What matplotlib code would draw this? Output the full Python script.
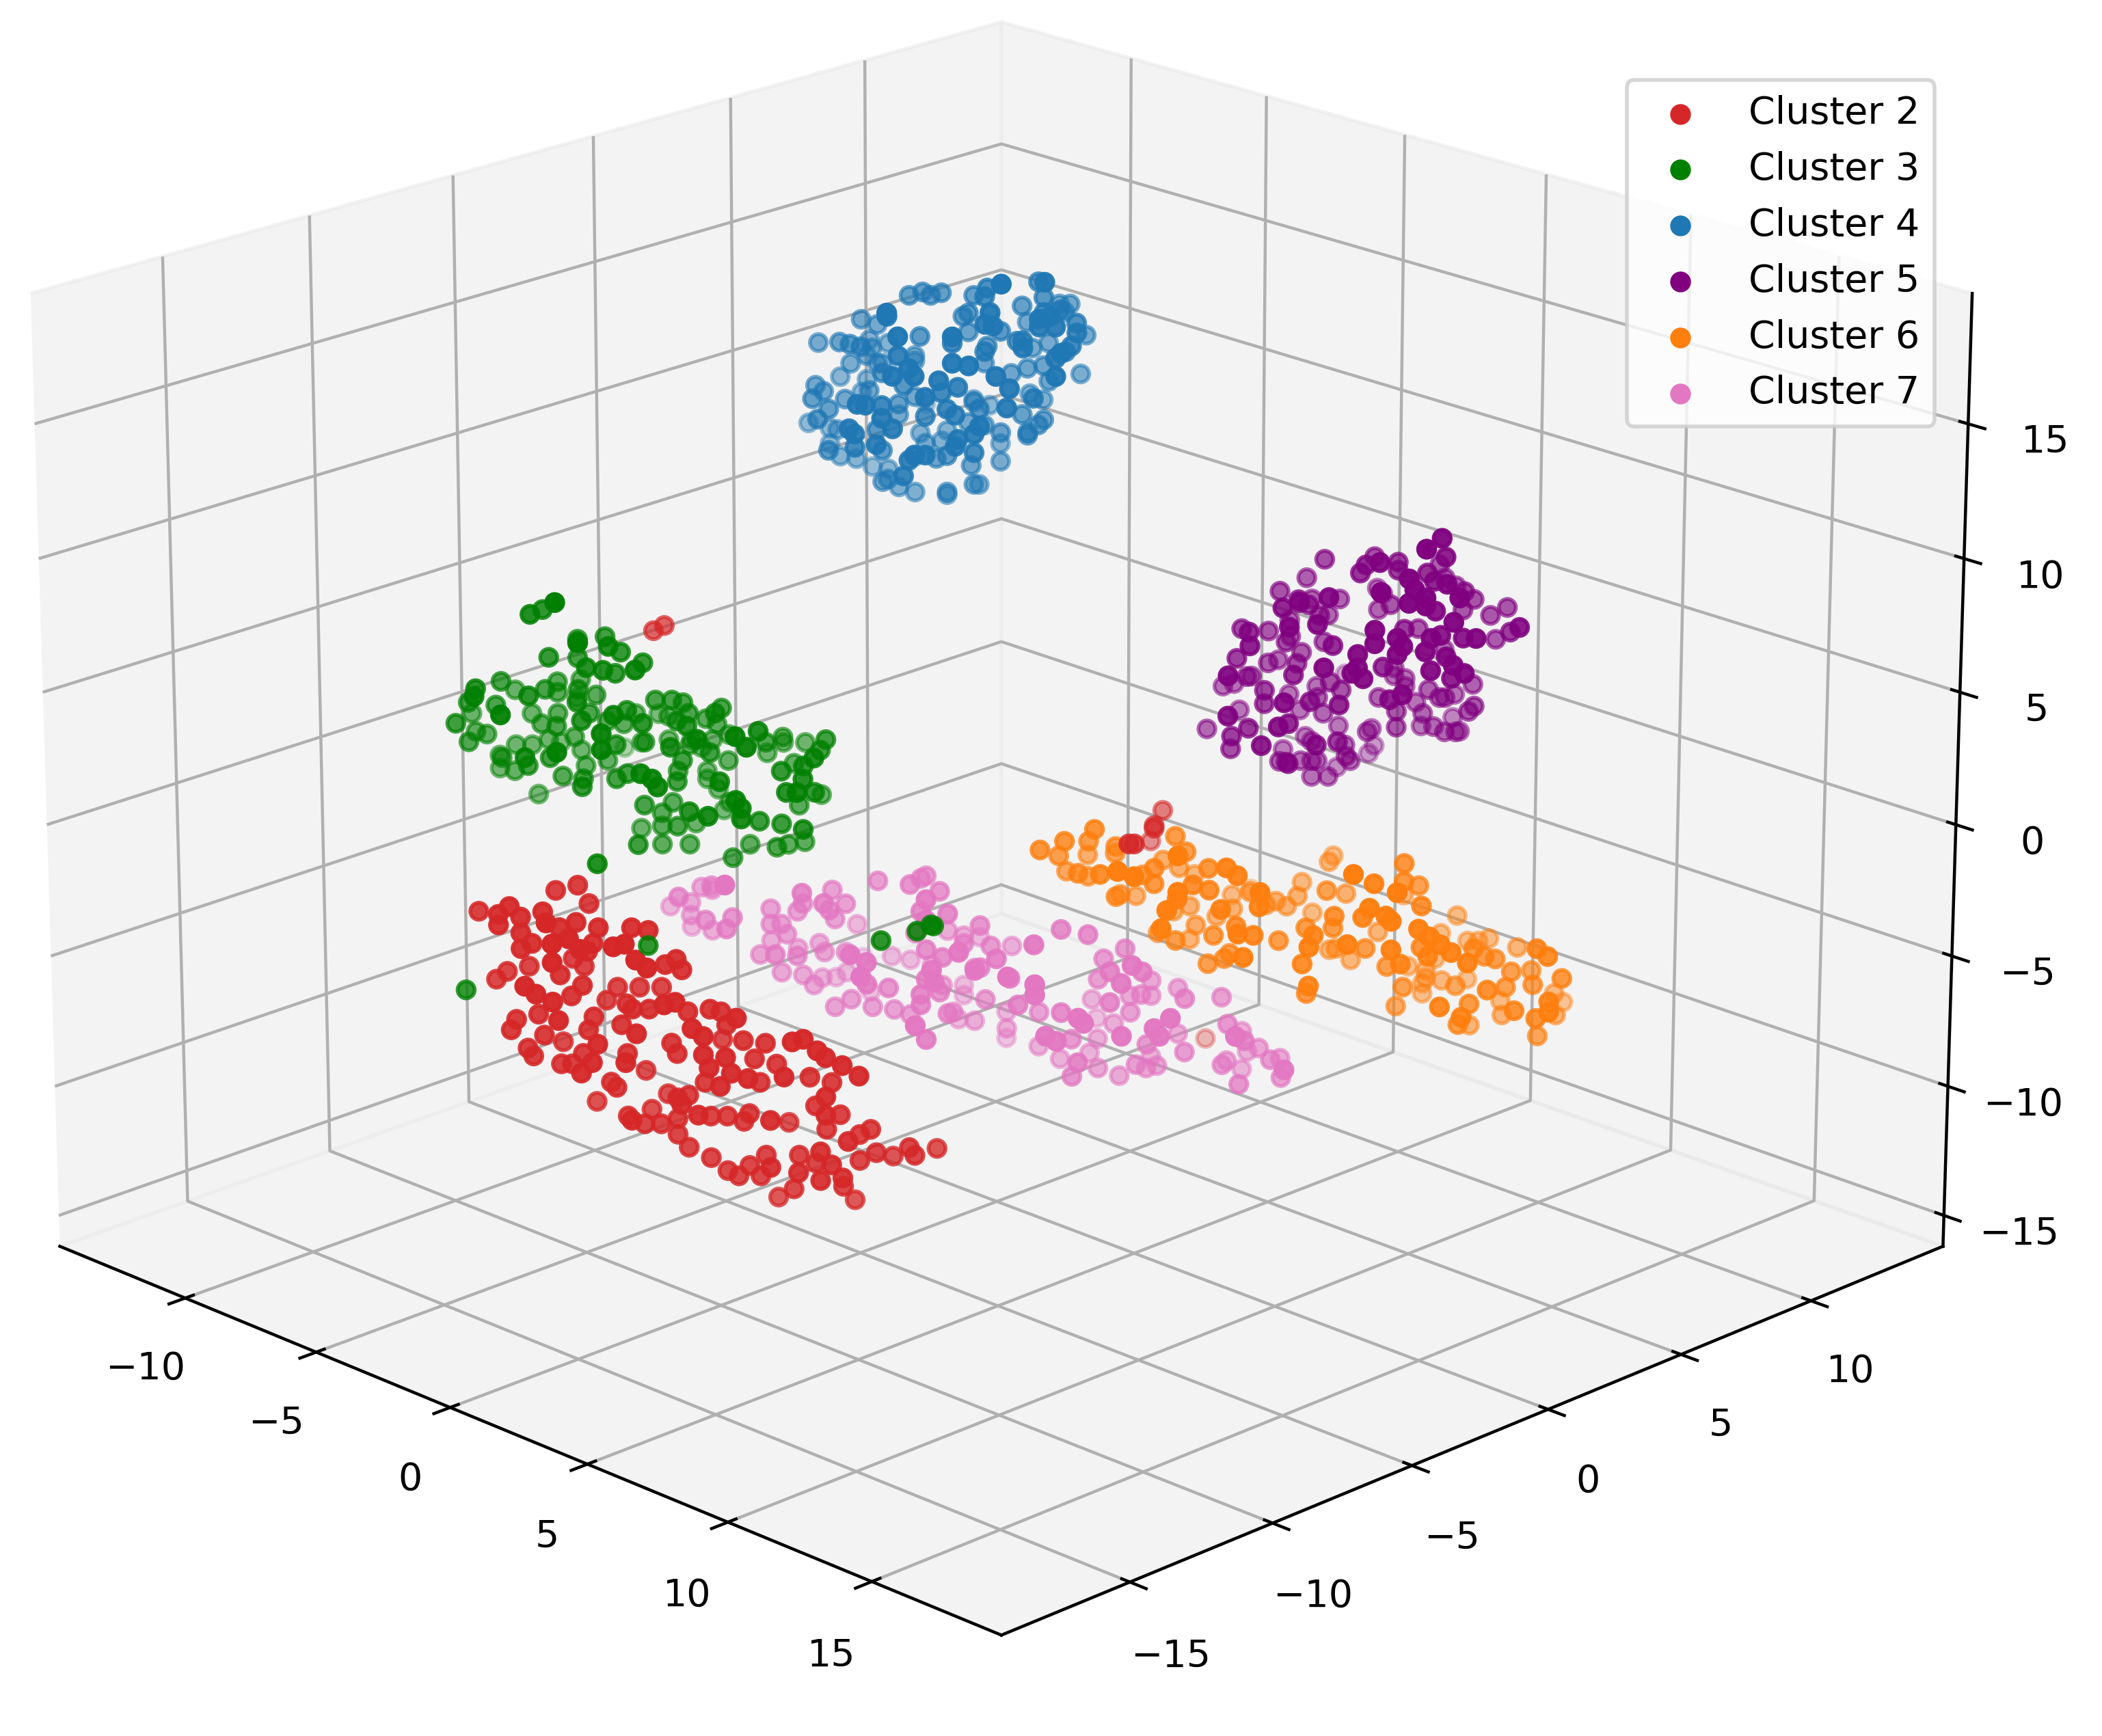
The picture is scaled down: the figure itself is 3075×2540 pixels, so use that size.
import numpy as np
import matplotlib
matplotlib.use("Agg")
import matplotlib.pyplot as plt

# (x, y, z) of every point, one list per cluster
cluster_2 = [
(-7.6,-11.2,-3.6),(-6.1,-11.9,-2.9),(-6.1,-11.9,-3.3),(-5.9,-11.7,-2.6),(-5.7,-11.5,-3.0),(-5.3,-11.1,-2.8),(-4.1,-12.1,-2.4),(-6.2,-9.8,-2.8),(-5.8,-9.4,-2.6),(-5.6,-9.2,-3.3),
(-5.7,-11.5,-3.6),(-5.5,-11.3,-4.0),(-5.7,-11.5,-4.2),(-5.0,-10.8,-3.4),(-4.7,-10.5,-3.2),(-4.3,-10.1,-3.4),(-4.0,-12.0,-3.2),(-3.7,-11.7,-3.0),(-3.5,-11.5,-3.4),(-4.4,-10.2,-4.0),(-4.5,-10.3,-4.3),
(-4.0,-12.0,-3.9),(-5.9,-9.5,-5.4),(-5.7,-9.3,-5.7),(-6.7,-10.3,-5.7),(-7.1,-10.7,-5.9),(-7.3,-10.9,-6.2),(-5.0,-10.8,-5.2),(-4.6,-10.4,-5.6),(-4.5,-12.5,-4.8),(-4.3,-12.3,-5.1),(-4.0,-12.0,-5.4),(-4.8,-10.6,-6.0),
(-5.1,-8.7,-6.5),(-4.7,-8.3,-6.5),(-4.3,-7.9,-6.5),(-5.3,-8.9,-7.0),(-3.7,-9.5,-3.4),(-3.4,-9.2,-3.5),(-2.9,-10.9,-3.3),(-2.7,-10.7,-3.2),(-2.5,-10.5,-3.8),(-2.3,-10.3,-4.1),(-3.1,-8.9,-4.8),(-2.9,-8.7,-4.6),(-2.8,-8.6,-5.0),
(-3.8,-9.6,-6.3),(-3.7,-9.5,-6.5),(-3.4,-9.2,-6.5),(-2.0,-10.0,-5.5),(-1.8,-9.8,-5.4),(-2.7,-8.5,-6.6),(-2.3,-8.1,-6.5),(-2.1,-7.9,-6.6),(-0.7,-8.7,-6.0),(-2.0,-7.8,-7.1),(-1.5,-9.5,-6.4),(-1.3,-9.3,-6.7),
(-3.9,-9.7,-7.1),(-2.5,-10.5,-6.6),(-4.4,-10.2,-6.8),(-4.5,-10.3,-7.3),(-5.4,-11.2,-6.7),(-5.8,-11.6,-6.9),(-5.9,-11.7,-7.3),(-3.9,-11.9,-6.1),(-5.3,-11.1,-7.5),(-6.1,-9.7,-8.6),(-5.6,-11.4,-8.0),(-5.5,-11.3,-8.3),
(-3.2,-11.2,-7.0),(-4.6,-10.4,-8.2),(-3.3,-11.3,-7.7),(-5.0,-10.8,-8.6),(-4.8,-10.6,-8.6),(-3.5,-11.5,-8.1),(-3.8,-9.6,-8.2),(-2.7,-10.7,-7.7),(-4.6,-8.2,-9.7),(-3.0,-8.8,-7.8),(-2.9,-8.7,-8.2),(-3.2,-6.8,-8.5),(-1.7,-7.5,-7.7),(-1.3,-7.1,-7.8),
(-1.3,-9.3,-7.4),(-0.9,-8.9,-7.5),(-1.5,-7.3,-8.4),(-1.1,-6.9,-8.6),(0.2,-7.9,-8.2),(-1.2,-9.2,-7.9),(-0.8,-8.8,-8.1),(-0.5,-8.5,-8.3),(-1.4,-7.2,-9.3),(-2.4,-8.2,-9.3),(-1.0,-9.0,-8.6),
(0.3,-7.7,-6.9),(0.5,-7.5,-6.8),(0.8,-7.3,-7.2),(0.9,-7.1,-7.5),(1.2,-6.8,-7.8),(1.5,-6.5,-8.2),(-0.5,-6.3,-9.1),(-0.1,-5.9,-9.3),(0.9,-7.1,-9.0),(-0.4,-6.2,-10.2),(0.9,-7.1,-9.7),(0.1,-5.8,-10.5),(-0.2,-6.0,-11.1),
(-4.1,-9.9,-9.3),(-4.0,-9.8,-9.5),(-5.5,-9.1,-10.9),(-4.2,-7.8,-10.6),(-2.9,-8.7,-9.9),(-2.7,-8.5,-9.8),(-1.7,-9.7,-9.3),(-3.8,-9.6,-10.6),(-4.5,-8.1,-11.2),(-2.6,-10.6,-9.9),(-3.5,-9.3,-10.9),(-3.2,-9.0,-10.9),(-2.9,-8.7,-10.7),(-2.9,-8.7,-11.3),(-2.7,-8.5,-11.8),
(-1.4,-9.4,-9.7),(-2.3,-8.1,-10.6),(-2.0,-7.8,-10.6),(-1.7,-7.5,-10.8),(-1.6,-7.4,-10.5),(-0.1,-8.1,-9.9),(-2.0,-5.6,-11.7),(-2.3,-8.1,-12.2),(-2.0,-7.8,-12.7),(-1.8,-7.6,-12.9),(-1.3,-7.1,-12.1),(-1.6,-7.4,-12.5),(-1.4,-7.2,-12.9),(-0.1,-8.1,-11.7),
(-0.7,-6.5,-12.1),(0.8,-7.2,-11.1),(1.3,-6.7,-10.7),(0.6,-5.2,-11.1),(0.4,-5.4,-11.3),(0.7,-5.1,-12.0),(0.4,-5.4,-12.3),(-0.1,-3.7,-13.0),(1.3,-4.5,-11.8),(1.4,-4.4,-12.1),(0.7,-2.9,-12.7),
(0.4,-7.6,-11.9),(-0.8,-6.6,-13.4),(0.8,-7.2,-12.2),(1.0,-7.0,-11.6),(1.2,-6.8,-12.1),(0.1,-5.7,-13.3),(-2.2,-5.8,-14.6),(-0.8,-4.4,-14.7),(-0.4,-6.2,-12.4),
(-8.9,-3.7,4.0),(-8.7,-3.5,4.2),(3.1,1.7,-1.8),(3.2,1.8,-1.8),(1.4,4.4,-2.7),(1.4,4.4,-2.8),(-0.6,6.8,-3.7),(-1.9,7.7,-5.7),(-3.0,11.0,-15.2),
]
cluster_3 = [
(-6.8,-10.0,7.5),(-7.3,-9.1,7.2),(-4.9,-10.9,8.9),(-7.4,-7.8,5.6),(-4.5,-10.5,7.4),(-6.9,-7.3,5.7),(-7.4,-7.8,4.9),(-5.4,-8.6,6.3),(-5.9,-7.7,5.6),(-7.2,-9.0,5.4),(-5.5,-7.3,5.2),(-4.2,-8.8,5.9),(-5.8,-9.0,5.5),(-5.5,-8.7,5.4),(-6.0,-7.8,4.8),
(-8.8,-6.4,3.1),(-8.5,-7.5,3.5),(-8.8,-9.2,4.0),(-7.8,-11.0,4.7),(-10.0,-7.6,2.7),(-6.9,-10.0,4.4),(-8.0,-8.4,3.7),(-8.5,-7.5,3.1),(-7.4,-7.8,3.7),(-7.8,-6.8,3.0),(-9.4,-9.8,3.2),(-7.1,-11.7,4.9),(-8.9,-9.3,3.1),(-5.9,-11.9,4.7),(-10.8,-8.4,1.8),
(-6.7,-8.5,3.7),(-9.7,-7.3,1.8),(-8.8,-7.8,1.9),(-8.5,-7.5,2.3),(-7.8,-8.2,2.3),(-7.2,-7.6,2.8),(-5.9,-9.1,3.5),(-9.6,-5.8,1.9),(-8.9,-10.7,2.9),(-10.0,-9.0,1.6),(-9.8,-8.8,1.5),(-9.4,-9.8,1.7),
(-6.0,-6.4,3.3),(-5.7,-6.1,3.3),(-5.5,-5.9,3.2),(-5.4,-5.8,2.8),(-7.2,-4.8,1.7),(-4.9,-6.7,3.0),(-8.1,-4.3,1.3),(-4.6,-9.2,4.2),(-5.8,-7.6,3.4),(-7.8,-5.4,1.8),(-4.8,-8.0,3.4),(-7.3,-6.3,1.9),(-7.6,-6.6,2.0),
(-4.8,-5.2,3.0),(-4.2,-6.0,3.3),(-5.8,-4.8,2.1),(-5.6,-4.6,1.9),(-4.0,-7.2,3.3),(-6.1,-3.7,1.0),(-1.7,-7.7,3.9),(-2.0,-6.6,3.6),(-4.0,-4.4,1.7),(-1.5,-7.5,3.5),(-4.4,-3.4,1.4),(-4.7,-2.3,0.7),(-2.2,-4.0,2.3),
(-4.1,-10.1,4.0),(-4.1,-10.1,3.4),(-6.0,-7.8,2.1),(-8.2,-7.2,1.4),(-9.4,-7.0,0.8),(-9.9,-6.1,0.2),(-10.0,-7.6,0.6),(-9.7,-7.3,0.6),(-7.7,-5.3,0.7),(-6.2,-6.6,1.7),(-7.2,-4.8,0.8),(-7.5,-3.7,0.3),(-6.4,-4.0,0.8),(-3.1,-7.7,3.3),(-4.3,-7.5,2.5),(-6.1,-5.1,1.1),(-4.3,-6.1,1.8),
(-8.8,-6.4,0.4),(-4.9,-10.9,3.3),(-7.2,-9.0,1.6),(-10.3,-7.9,0.2),(-8.8,-9.2,1.1),(-6.2,-10.8,2.6),(-10.3,-7.9,-0.3),(-9.3,-8.3,0.1),(-7.6,-9.4,1.3),(-4.8,-6.6,1.5),(-6.6,-4.2,0.5),(-5.4,-4.4,0.5),(-5.1,-2.7,0.7),(-5.4,-3.0,0.3),(-4.2,-3.2,0.4),(-2.3,-5.5,1.6),(-1.0,-5.6,2.6),(-2.3,-4.1,1.9),(-1.9,-5.1,1.8),
(-7.6,-6.6,0.5),(-8.0,-7.0,0.3),(-7.7,-8.1,0.4),(-9.6,-7.2,-1.3),(-5.8,-7.6,1.0),(-6.0,-7.8,0.8),(-3.4,-9.4,2.5),(-3.2,-9.2,2.3),(-3.1,-9.1,2.0),(-5.6,-6.0,0.6),(-4.9,-6.7,0.7),(-6.5,-4.1,-0.4),(-6.5,-4.1,-0.7),(-2.7,-7.3,1.7),(-6.3,-3.9,-1.1),(-6.6,-8.4,0.8),(-5.9,-9.1,1.0),
(-1.2,-5.8,1.8),(-1.5,-6.1,1.3),(-0.6,-6.6,1.8),(-1.7,-4.9,0.8),(-3.7,-2.7,-0.8),(-3.4,-3.8,-0.7),(-6.1,-3.7,-1.6),(-1.7,-7.7,1.5),(-1.6,-7.6,1.2),(-1.6,-7.6,0.8),(-5.5,-7.3,-0.2),(-5.7,-6.1,-0.6),(-5.9,-6.3,-1.0),(-3.2,-7.9,0.6),(-2.2,-8.2,0.9),(-6.2,-3.8,-1.9),(-2.7,-5.9,-0.3),
(-6.0,-5.0,-1.9),(-4.9,-6.7,-1.0),(-5.9,-6.3,-1.5),(-7.0,-6.0,-2.1),(-4.9,-8.1,-1.2),(-5.9,-6.3,-2.2),(-5.4,-5.8,-2.2),(-3.9,-5.7,-2.2),(-4.3,-4.7,-2.2),(-3.1,-4.9,-1.8),(-3.6,-4.0,-2.2),(-2.3,-5.5,-0.4),(-1.2,-5.8,-0.1),(-3.3,-3.7,-2.1),
(-4.2,-10.2,-0.9),(-6.6,-12.6,-5.7),(-3.3,-9.3,-4.0),(0.9,-5.1,-3.8),(1.6,-4.5,-3.4),(1.8,-4.2,-3.2),(1.9,-4.2,-3.2),(-10.9,-2.9,-1.5),
]
cluster_4 = [
(-8.6,5.4,14.0),(-8.4,5.7,14.1),(-8.2,5.8,14.0),(-8.0,6.0,14.1),(-7.4,6.6,14.0),(-6.0,5.7,15.0),(-3.9,4.1,16.3),(-6.0,5.6,14.7),(-5.6,7.2,14.9),(-3.7,5.5,16.0),(-5.5,7.3,14.3),(-6.5,7.5,13.6),(-6.2,9.0,13.3),(-6.4,8.8,13.3),
(-6.9,5.9,13.7),(-7.6,6.4,13.2),(-7.1,6.9,13.3),(-5.9,5.7,14.1),(-7.0,8.2,12.6),(-4.9,6.7,14.1),(-4.6,7.0,14.2),(-6.3,8.9,13.0),(-3.8,5.4,14.6),(-3.6,5.6,14.7),(-3.8,5.4,14.3),(-3.5,5.7,14.3),(-4.3,7.3,13.7),(-5.9,9.3,12.1),(-3.7,6.7,13.7),
(-10.1,5.1,12.7),(-9.8,5.4,12.5),(-6.0,2.0,15.2),(-6.6,2.6,14.7),(-10.9,4.3,11.8),(-9.9,4.1,12.2),(-9.1,3.7,12.5),(-8.9,3.9,12.4),(-10.6,5.9,11.5),(-9.9,5.3,11.6),(-10.2,6.2,11.4),(-5.8,2.2,14.3),(-7.8,5.0,12.8),(-7.5,6.5,12.6),(-4.8,4.4,14.4),(-4.7,4.6,14.3),(-6.3,6.5,13.0),(-4.8,3.2,14.3),(-6.0,4.4,13.3),
(-5.4,6.2,13.0),(-4.7,5.7,13.4),(-4.1,5.1,13.5),(-6.9,8.3,11.6),(-6.6,8.6,11.8),(-3.8,6.6,13.2),(-4.5,7.1,12.6),
(-10.3,4.9,11.0),(-10.0,5.2,11.3),(-9.8,5.4,11.0),(-9.7,5.5,11.0),(-6.4,2.8,13.2),(-9.1,6.1,11.3),(-9.1,6.1,11.1),(-6.6,6.3,12.4),(-6.0,5.6,12.6),(-7.2,6.8,11.4),(-6.7,7.3,11.0),(-6.4,7.6,11.2),(-6.1,7.9,11.3),(-3.5,5.7,13.1),(-3.4,5.8,13.3),(-6.0,9.2,10.6),
(-11.1,5.3,10.1),(-10.6,5.8,10.0),(-8.5,4.3,11.4),(-5.9,2.1,12.8),(-5.6,2.4,13.1),(-4.8,3.2,13.3),(-4.5,3.5,13.2),(-5.5,2.5,12.8),(-5.1,3.0,12.6),(-5.3,3.9,12.0),(-4.0,4.0,12.8),(-2.9,5.1,12.8),(-6.0,8.0,10.7),
(-10.4,3.7,10.5),(-10.2,3.8,10.3),(-9.8,3.0,10.4),(-9.8,4.2,10.0),(-10.7,5.7,9.5),(-9.4,4.7,10.3),(-7.5,4.1,11.3),(-8.5,5.5,10.1),(-3.8,4.3,12.3),(-7.0,8.3,9.8),(-6.7,8.5,9.6),(-8.0,7.2,9.6),(-7.4,6.6,9.9),(-8.3,8.1,9.0),
(-5.3,2.7,12.0),(-4.5,5.9,11.2),(-3.8,4.2,11.6),(-5.9,6.9,9.8),(-6.1,5.5,10.4),(-9.5,3.3,10.0),(-11.7,4.7,8.3),(-9.1,2.5,10.0),(-6.6,1.5,11.7),(-6.4,1.6,11.7),(-6.7,2.5,11.3),(-8.2,4.6,10.2),(-8.8,5.2,9.4),(-5.9,3.9,11.6),(-5.6,3.8,11.1),(-5.4,3.9,10.9),(-6.5,3.9,10.5),
(-7.5,6.5,9.1),(-5.5,7.3,9.6),(-5.6,7.2,9.4),(-5.2,6.4,9.5),(-6.3,6.5,9.1),(-4.3,3.7,10.9),(-7.2,6.8,9.0),(-8.5,6.7,8.4),(-9.0,6.2,8.3),(-6.1,1.9,11.2),(-5.9,2.1,10.8),(-8.0,3.6,9.6),(-6.7,1.3,10.8),(-6.6,1.4,10.6),(-11.3,5.1,8.1),(-10.6,4.7,8.4),
(-5.8,7.0,9.0),(-7.5,7.7,7.9),(-8.6,6.6,8.0),(-8.3,5.7,8.3),(-4.7,3.3,10.4),(-4.4,3.6,10.6),(-11.3,5.1,7.5),(-8.9,2.7,8.8),(-10.5,4.7,7.4),(-7.2,2.0,9.7),(-10.2,5.0,7.3),(-6.2,1.8,10.2),(-7.9,3.7,8.8),(-10.5,5.9,6.6),
(-9.1,6.1,7.4),(-5.5,2.5,9.8),(-5.3,2.7,9.8),(-7.5,5.3,8.1),(-6.7,4.9,8.6),(-4.8,3.3,10.1),(-5.0,4.2,9.5),(-6.9,6.0,7.8),(-6.9,7.1,7.6),(-5.6,2.4,9.6),(-9.6,5.6,6.9),
(-8.5,4.3,7.2),(-8.4,4.4,7.3),(-5.7,2.3,9.0),(-8.8,5.2,6.6),(-8.5,5.5,6.4),(-6.8,6.0,7.1),(-7.3,6.7,6.7),(-7.3,5.5,6.8),(-7.9,6.1,6.3),(-11.3,8.7,7.9),
]
cluster_5 = [
(6.9,4.9,9.2),(6.0,5.2,8.1),(7.8,5.8,9.3),(8.8,4.4,9.8),(8.7,4.3,9.5),(10.2,3.4,10.7),(11.3,4.5,11.6),(11.6,3.6,11.6),(10.8,5.2,10.5),(8.4,7.6,8.6),(8.8,5.6,9.5),(8.8,5.6,9.2),(9.9,5.5,9.5),(8.5,7.7,8.1),(8.7,7.9,7.8),(6.7,7.1,7.3),
(6.1,4.1,8.0),(7.6,3.2,8.5),(8.2,2.6,8.8),(7.9,2.3,8.6),(6.1,5.3,7.3),(9.3,2.5,9.4),(6.6,5.8,7.3),(7.2,4.0,7.9),(10.8,2.8,10.0),(6.8,7.2,7.1),(7.3,6.5,6.9),(8.1,6.1,7.5),(11.3,3.3,10.5),(11.4,3.4,10.1),(11.6,3.6,9.8),(10.6,5.0,9.6),(11.4,4.6,9.9),(12.2,4.2,9.8),(10.0,6.8,8.4),(9.6,7.6,7.7),(9.4,7.4,7.3),(10.2,8.2,7.4),(9.9,7.9,7.1),(11.2,4.4,8.9),(12.1,4.1,8.9),
(11.3,3.3,9.6),(11.6,3.6,9.5),(6.4,5.6,6.7),(7.4,4.2,7.5),(9.1,2.3,8.4),(5.7,4.9,6.5),(5.9,3.9,6.5),(8.6,1.8,8.3),(6.0,2.8,7.0),(7.3,1.7,7.7),(6.3,4.3,6.3),(6.8,3.6,6.5),(6.9,4.9,6.1),(8.8,3.2,7.2),(12.7,5.9,8.3),(11.4,7.0,7.3),(10.0,8.0,6.2),(12.5,4.5,8.3),(11.7,4.9,7.9),(8.6,6.6,6.6),(9.5,5.1,7.4),(11.3,4.5,8.0),(11.7,3.7,8.3),(10.7,2.7,8.6),(10.7,2.7,8.1),(11.1,3.1,8.3),(11.2,3.2,8.0),(11.1,3.1,7.7),(11.6,3.6,7.8),
(7.9,1.1,7.6),(6.5,2.1,6.3),(6.5,4.5,5.7),(5.9,3.9,5.3),(5.5,4.7,5.0),(7.0,3.8,5.7),(8.5,7.7,5.4),(11.4,4.6,7.2),(10.4,2.4,7.7),(10.4,2.4,7.2),(10.5,2.5,6.8),(10.3,2.3,7.0),(9.8,1.8,7.2),(8.1,2.5,6.1),(6.1,2.9,5.2),(5.6,3.6,4.8),(8.1,0.1,6.9),(4.5,3.7,4.0),(4.7,3.9,4.1),
(9.7,4.1,6.4),(7.6,6.8,4.7),(7.6,6.8,4.4),(7.8,7.0,4.3),(11.7,3.7,7.1),(12.1,4.1,7.3),(12.3,4.3,7.0),(11.5,4.7,6.4),(9.6,7.6,4.5),(7.6,4.4,5.0),(6.2,5.4,4.0),(7.8,4.6,4.7),(7.0,2.6,5.1),(5.7,4.9,3.7),(8.4,2.8,5.1),(7.0,2.6,4.6),(9.1,1.1,5.9),(6.8,4.8,4.0),(9.5,2.7,5.4),(10.4,3.6,5.6),(11.2,3.2,6.2),(7.9,5.9,4.0),(7.8,7.0,4.0),
(8.8,6.8,4.3),(9.0,7.0,4.0),(9.1,7.1,4.0),(8.7,7.9,3.7),(8.0,7.2,3.4),(8.7,6.7,3.4),(8.8,5.6,3.9),(8.8,5.6,3.3),(6.9,4.9,3.4),(6.6,5.8,2.5),(5.9,5.1,3.1),(8.1,0.1,5.4),(4.8,4.0,3.1),(4.8,2.8,2.8),(7.3,1.7,4.1),(9.0,1.0,5.0),(8.6,1.8,4.7),(7.0,1.4,3.8),(8.7,0.7,4.3),(6.4,2.0,2.9),(6.5,4.9,2.2),
(8.1,8.5,2.4),(10.2,7.0,4.1),(10.1,6.9,3.9),(8.1,7.3,2.5),(8.9,6.9,2.9),(9.1,7.1,2.7),(9.3,7.3,2.7),(8.8,8.0,2.3),(7.7,5.7,2.7),(7.2,6.4,2.4),(6.1,7.7,0.9),(6.0,7.6,0.6),(6.0,5.2,2.1),(9.1,2.3,3.9),(8.9,3.3,3.6),(7.3,5.3,2.2),(7.9,4.7,2.2),(7.4,5.4,1.6),(6.0,6.4,0.5),(5.6,4.8,1.6),(6.7,3.5,2.0),(8.6,1.8,3.2),(7.4,3.0,2.4),(6.5,4.5,1.6),(6.7,4.7,1.6),(6.8,4.8,1.6),(6.7,4.7,1.0),(7.0,5.0,1.0),(4.4,8.4,2.8),
]
cluster_6 = [
(-0.5,2.1,-3.5),(0.5,3.1,-2.7),(-0.1,2.6,-3.2),(-0.2,3.6,-3.6),(-1.4,4.8,-5.0),(-0.8,3.1,-4.2),(-1.2,3.8,-5.2),(0.2,2.8,-4.4),(-0.8,4.2,-5.4),(1.2,2.6,-4.0),(0.3,4.1,-3.8),(-0.3,4.7,-4.5),(2.7,1.7,-3.0),(3.0,2.0,-3.2),(0.9,3.5,-5.3),(-0.2,4.8,-6.1),(-0.5,5.7,-6.6),
(0.8,4.6,-4.9),(1.6,4.2,-4.2),(1.6,4.2,-4.8),(0.0,6.2,-5.2),(1.4,5.2,-3.4),(3.8,2.8,-2.4),(1.6,5.4,-4.0),(0.3,6.5,-5.5),(0.0,7.4,-6.2),(2.6,5.2,-4.2),(4.1,4.3,-3.3),(4.3,4.5,-3.6),(2.9,4.3,-4.4),(3.2,4.6,-4.6),(3.8,2.8,-3.8),(3.2,3.4,-4.5),(3.6,2.6,-4.5),(0.2,6.4,-7.2),(0.5,6.7,-7.0),(1.2,6.2,-7.3),(3.5,2.5,-5.2),(0.5,5.5,-7.6),(2.0,4.6,-7.0),(0.5,6.7,-8.3),
(0.7,8.1,-7.0),(2.2,7.2,-6.0),(5.3,4.3,-3.8),(4.7,4.9,-4.8),(2.5,7.5,-6.5),(4.0,4.2,-4.9),(1.3,7.5,-7.1),(1.0,7.2,-7.4),(3.7,5.1,-6.0),(4.9,3.9,-5.4),(4.6,4.8,-5.9),(2.1,8.3,-6.8),(2.5,8.7,-6.6),(2.0,9.4,-6.5),(2.3,8.5,-7.0),(4.2,8.0,-5.5),(7.0,6.0,-3.1),(6.8,7.0,-3.9),(2.5,9.9,-5.7),(2.0,10.6,-5.9),
(6.2,8.8,-4.0),(6.2,8.8,-4.7),(5.9,9.7,-5.3),(7.8,6.8,-3.8),(3.4,9.6,-6.5),(2.2,9.6,-7.7),(5.5,6.9,-5.6),(4.9,7.5,-6.5),(7.3,6.3,-4.4),(6.6,6.8,-5.2),(7.6,6.6,-4.7),(7.7,6.7,-4.9),(7.1,8.5,-5.2),(3.9,11.3,-7.0),(4.9,12.3,-7.8),(4.4,7.0,-6.5),(5.7,5.9,-5.9),(6.2,5.2,-5.9),(5.5,5.7,-7.0),(3.9,6.5,-7.0),(2.7,5.3,-6.8),(3.0,5.6,-7.5),(5.0,4.0,-6.3),(2.9,5.5,-7.7),(2.6,5.2,-7.9),
(3.1,9.3,-8.7),(3.8,8.8,-8.2),(6.9,5.9,-5.8),(5.5,8.1,-7.3),(7.7,6.7,-6.0),(4.0,10.2,-8.0),(7.3,7.5,-7.0),(5.9,8.5,-8.0),(6.2,5.2,-7.4),(5.0,6.4,-8.6),(3.5,9.7,-9.1),(8.2,7.2,-5.2),(8.4,7.4,-5.5),(8.6,7.6,-5.8),(7.1,8.5,-6.8),(7.8,8.0,-6.7),(8.8,7.8,-6.1),(9.1,8.1,-6.5),(4.6,12.0,-8.5),(4.5,11.9,-9.5),(5.1,12.5,-8.8),(5.3,12.7,-8.8),(5.5,12.9,-8.7),(7.5,10.1,-7.3),(7.9,10.5,-7.7),(7.7,10.3,-7.6),(6.6,12.8,-8.6),(9.8,10.0,-6.4),(10.0,10.2,-6.7),(8.0,11.8,-8.6),(8.2,10.8,-8.2),(4.0,11.4,-9.8),(4.9,11.1,-9.5),(4.9,11.1,-9.8),(6.2,8.8,-8.8),(4.6,11.3,-10.2),(5.2,11.4,-9.9),(6.6,10.4,-9.2),(5.1,12.5,-10.3),(8.9,9.1,-8.0),(8.1,10.7,-8.8),(8.6,11.2,-8.7),(9.7,11.1,-8.0),(5.5,9.3,-10.0),(4.6,11.3,-10.6),(8.6,7.6,-8.2),(8.0,9.4,-9.0),(9.0,8.0,-8.6),(7.8,9.2,-9.8),(6.3,11.3,-11.2),(6.3,12.5,-10.7),(9.4,9.6,-8.8),(6.9,11.9,-10.8),(10.6,9.6,-8.4),(9.8,10.0,-9.1),(7.3,13.5,-10.4),(6.9,14.3,-11.2),(7.9,12.9,-10.8),(8.7,11.3,-10.7),(10.6,9.6,-8.0),(-0.7,10.3,-8.1),
]
cluster_7 = [
(-10.9,-1.3,-8.3),(-8.9,-2.9,-6.6),(-9.9,-1.5,-7.7),(-9.7,-1.3,-7.1),(-8.9,-1.7,-6.6),(-9.5,-1.1,-7.2),(-6.2,-3.8,-4.8),(-7.9,-1.9,-7.4),(-9.9,-1.5,-8.2),(-10.5,-0.9,-9.1),(-8.4,-2.4,-7.5),(-9.5,-1.1,-8.8),(-7.4,-2.6,-7.4),
(-7.8,-0.6,-7.5),(-7.8,-0.6,-8.1),(-7.6,-0.4,-8.1),(-7.5,-0.3,-8.5),(-8.4,0.0,-9.2),(-8.0,-0.8,-9.3),(-6.5,-1.7,-8.4),(-7.6,-0.4,-10.0),(-7.2,0.0,-10.1),(-6.7,-0.7,-8.9),(-7.9,0.5,-9.5),(-7.5,1.0,-10.7),(-7.0,0.2,-10.5),(-7.8,1.8,-11.1),(-7.5,0.9,-9.3),(-6.8,0.4,-9.2),
(-6.0,-1.2,-6.0),(-7.3,-0.1,-7.6),(-7.2,0.0,-7.3),(-6.7,0.6,-6.8),(-5.6,-0.8,-6.4),(-6.1,-0.1,-7.1),(-6.6,0.6,-7.9),(-6.4,0.8,-7.3),(-7.4,2.2,-9.0),(-5.8,1.4,-6.4),(-4.6,1.4,-6.1),(-5.0,2.2,-6.3),(-4.9,2.3,-6.2),(-4.1,2.0,-6.4),(-3.1,0.5,-5.8),(-3.8,1.0,-6.7),(-3.3,1.5,-6.8),(-3.1,0.5,-6.6),(-4.5,1.5,-8.0),(-5.1,3.3,-8.8),(-3.7,1.1,-8.2),
(-6.4,0.8,-9.2),(-3.9,-1.5,-7.5),(-3.6,-1.2,-7.8),(-7.6,2.0,-10.9),(-3.1,-1.9,-7.9),(-4.2,-0.6,-9.1),(-6.8,2.9,-10.3),(-6.4,3.2,-10.4),(-6.0,3.6,-10.6),(-4.4,0.4,-9.7),(-7.2,2.5,-11.7),(-5.7,0.3,-10.6),(-6.0,0.0,-10.9),(-5.3,0.7,-10.9),(-4.9,1.1,-11.0),
(-3.3,2.7,-7.7),(-4.8,3.6,-9.0),(-5.1,4.5,-9.5),(-3.6,2.4,-8.4),(-1.9,0.5,-7.4),(-3.4,1.4,-8.5),(-3.1,2.9,-8.5),(-1.8,1.8,-8.1),(-3.9,4.5,-9.4),(-1.7,3.1,-8.0),(-2.9,4.3,-8.9),(-1.2,3.6,-7.4),(-0.7,4.1,-7.6),
(-2.4,0.0,-8.1),(-2.4,0.1,-8.6),(-3.1,0.5,-8.9),(-4.6,2.6,-10.5),(-3.5,1.4,-9.9),(-5.4,4.2,-11.4),(-5.4,4.2,-11.8),(-1.6,0.8,-8.1),(-2.9,2.1,-9.0),(-0.4,0.8,-7.9),(-1.6,2.1,-8.9),(-2.7,2.1,-8.9),(0.1,1.3,-8.2),(0.1,1.3,-8.6),(-3.2,2.8,-10.6),(-1.4,2.2,-9.9),(-3.2,0.4,-9.9),(-3.2,0.4,-9.5),
(-2.1,-0.9,-9.8),(-2.5,-0.1,-10.8),(-4.6,1.4,-11.2),(-3.3,1.5,-10.7),(-3.8,2.2,-11.1),(-4.9,3.5,-12.3),(-4.0,3.2,-11.9),(-4.0,4.4,-12.0),(-3.4,3.8,-12.2),(-4.6,5.0,-13.5),(-2.2,3.8,-11.1),(-0.6,3.0,-10.2),(0.9,2.1,-9.5),(1.0,2.2,-9.7),(-2.9,6.7,-12.7),(-1.4,5.8,-12.0),(1.7,2.9,-10.2),(-1.7,5.5,-12.6),
(0.3,1.5,-10.2),(0.5,1.7,-10.4),(-1.0,3.8,-11.7),(-2.8,4.4,-12.9),(-2.4,4.8,-13.4),(0.3,2.7,-11.7),(-1.9,5.4,-13.2),(-0.4,3.2,-12.7),(-1.1,4.9,-13.3),(-0.7,5.3,-13.6),(0.2,5.0,-12.7),(-0.2,5.8,-13.3),(0.0,6.0,-13.2),(-0.7,6.5,-13.3),
(2.3,3.5,-9.9),(2.6,3.8,-9.5),(2.4,3.6,-10.2),(0.4,5.2,-11.9),(-0.2,7.0,-12.4),(1.1,5.9,-12.2),(-2.4,6.0,-11.5),(0.3,3.9,-9.8),(-0.5,5.5,-11.1),(-0.6,5.4,-8.6),(-1.0,5.0,-9.0),(0.3,3.9,-8.6),(-1.1,4.9,-9.8),(1.1,3.5,-8.6),(1.3,3.7,-7.9),(0.9,4.5,-8.6),(-0.7,6.5,-10.3),(-1.1,6.1,-10.9),(-0.3,5.7,-10.4),(-0.7,6.5,-10.9),(-0.2,7.0,-10.6),(1.1,5.9,-10.1),(1.2,7.2,-10.5),(1.9,6.7,-11.1),(3.8,5.0,-10.2),(1.0,8.2,-12.3),(2.8,6.4,-11.3),(1.1,8.3,-13.1),(1.9,7.9,-12.5),(1.3,7.3,-13.0),(1.8,6.6,-12.7),(1.0,8.2,-13.8),(2.7,6.3,-13.0),(2.7,7.5,-12.5),(2.3,8.3,-12.9),(4.7,5.9,-11.5),(2.9,7.7,-13.2),(-8.5,3.5,-11.2),
]

cluster_labels = ["Cluster 2", "Cluster 3", "Cluster 4", "Cluster 5", "Cluster 6", "Cluster 7"]
cluster_colors = ["#d62728", "green", "#1f77b4", "purple", "#ff7f0e", "#e377c2"]
clusters = [cluster_2, cluster_3, cluster_4, cluster_5, cluster_6, cluster_7]

fig = plt.figure(figsize=(3075 / 400, 2540 / 400), dpi=400)
ax = fig.add_axes([-0.1576, -0.069, 1.241, 1.21], projection="3d")

for points, label, color in zip(clusters, cluster_labels, cluster_colors):
    p = np.array(points)
    ax.scatter(p[:, 0], p[:, 1], p[:, 2], s=20, linewidths=1, c=color, label=label)

ax.set_xlim(-14.9, 19.4)
ax.set_ylim(-19.4, 15.2)
ax.set_zlim(-16.2, 19.8)
ax.set_yticks([-15, -10, -5, 0, 5, 10])
ax.view_init(elev=20, azim=-45)

# all three panes the same grey
for axis in (ax.xaxis, ax.yaxis, ax.zaxis):
    axis.set_pane_color((0.91, 0.91, 0.91, 0.5))

ax.legend(loc="upper right", bbox_to_anchor=(2830 / 3075, 1 - 117 / 2540),
          bbox_transform=fig.transFigure, borderaxespad=0)

fig.savefig("out.png", dpi=400)
